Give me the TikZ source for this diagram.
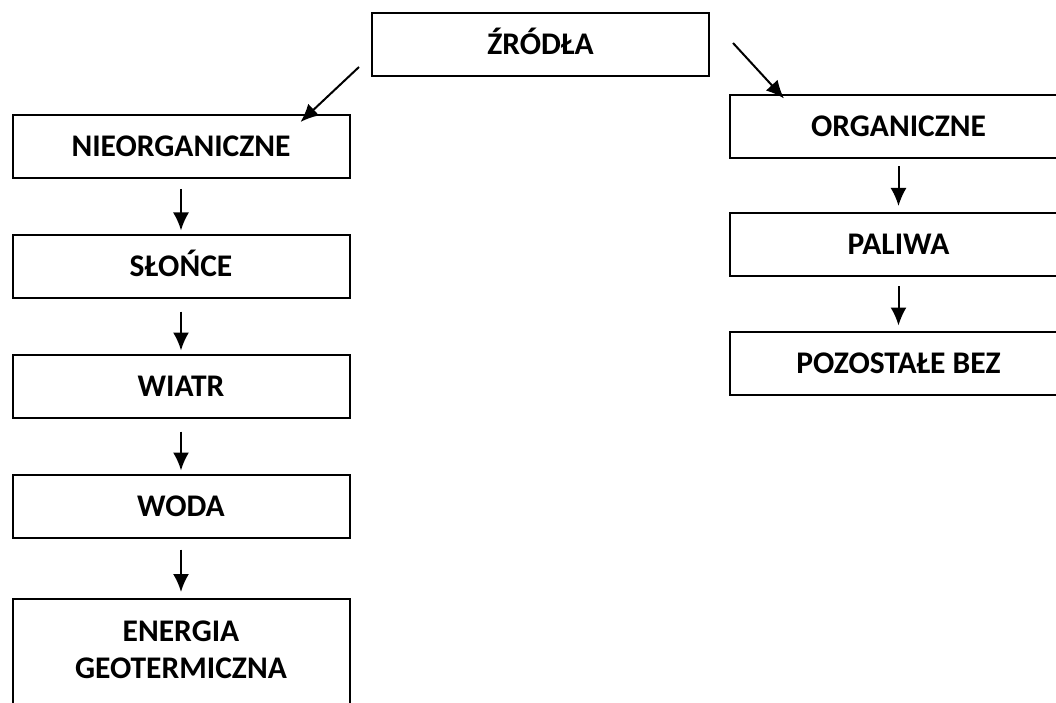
\documentclass[tikz,border=0pt]{standalone}
\usepackage{fontspec}
\setmainfont{Carlito}
\usetikzlibrary{arrows.meta}

\tikzset{
  pole/.style={draw, line width=2pt, minimum width=337pt, minimum height=63pt,
    inner sep=0pt, text height=20pt, text depth=0pt,
    font=\fontsize{31.5}{37}\selectfont\bfseries},
  strz/.style={->, line width=2pt}
}

\begin{document}
\begin{tikzpicture}[x=1pt, y=-1pt, >={Latex[length=18pt,width=16pt]}]
            \clip (0,0) rectangle (1056,703);
            \fill[white] (0,0) rectangle (1056,703);
            % ==== TOP ====
            \node[pole] (zrodla) at (540.5,45) {ŹRÓDŁA};
            % ==== LEFT COLUMN ====
            \node[pole] (nieorg) at (181,146.5) {NIEORGANICZNE};
            \node[pole] (slonce) at (181,266) {SŁOŃCE};
            \node[pole] (wiatr) at (181,386) {WIATR};
            \node[pole] (woda) at (181,506) {WODA};
            \node[pole, anchor=north, align=center, text height=, text depth=, inner ysep=22pt]
                (energia) at (181,598) {ENERGIA\\GEOTERMICZNA\\~};
            % ==== RIGHT COLUMN ====
            \node[pole] (org) at (898.5,127) {ORGANICZNE};
            \node[pole] (paliwa) at (898.5,244.5) {PALIWA};
            \node[pole] (pozost) at (898.5,363) {POZOSTAŁE BEZ};

            % ==== ARROWS ====
            \draw[strz] ([shift={(-12,22)}]zrodla.west) -- ([shift={(-50,8)}]nieorg.north east);
            \draw[strz] ([shift={(23,-2)}]zrodla.east) -- ([shift={(55,4)}]org.north west);
            \draw[strz, shorten <=10pt, shorten >=3pt] (nieorg.south) -- (slonce.north);
            \draw[strz, shorten <=13pt, shorten >=3pt] (slonce.south) -- (wiatr.north);
            \draw[strz, shorten <=13pt, shorten >=3pt] (wiatr.south) -- (woda.north);
            \draw[strz, shorten <=11pt, shorten >=6pt] (woda.south) -- (energia.north);
            \draw[strz, shorten <=7pt, shorten >=6pt] (org.south) -- (paliwa.north);
            \draw[strz, shorten <=9pt, shorten >=5pt] (paliwa.south) -- (pozost.north);
\end{tikzpicture}
\end{document}
